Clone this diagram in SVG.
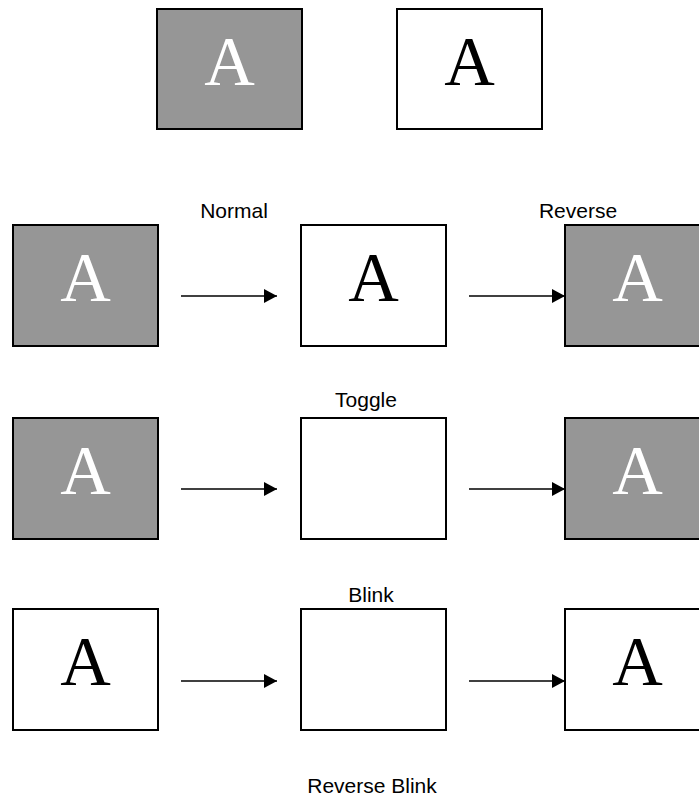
<svg xmlns="http://www.w3.org/2000/svg" width="699" height="800" viewBox="0 0 699 800">
<style>
.box{stroke:#000;stroke-width:2}
.on{fill:#969696}
.off{fill:#fff}
.glyph{font-family:"Liberation Serif","Times New Roman",serif;font-size:70px;text-anchor:middle}
.gw{fill:#fff}
.gb{fill:#000}
.lbl{font-family:"Liberation Sans",Arial,sans-serif;font-size:21px;text-anchor:middle;fill:#000}
.conn line{stroke:#000;stroke-width:1.6}
</style>
<defs>
<marker id="ah" markerWidth="13" markerHeight="14" refX="13" refY="7" orient="auto" markerUnits="userSpaceOnUse">
<path d="M0,0 L13,7 L0,14 Z" fill="#000"/>
</marker>
</defs>
<rect width="699" height="800" fill="#fff"/>

<g id="legend-on"><rect class="box on" x="157" y="9" width="145" height="120"/><text class="glyph gw" x="229.5" y="85">A</text></g>
<g id="legend-off"><rect class="box off" x="397" y="9" width="145" height="120"/><text class="glyph gb" x="469.5" y="85">A</text></g>

<text class="lbl" x="234" y="218">Normal</text>
<text class="lbl" x="578" y="218">Reverse</text>

<g id="r1a"><rect class="box on" x="13" y="225" width="145" height="121"/><text class="glyph gw" x="85.5" y="301">A</text></g>
<g id="r1b"><rect class="box off" x="301" y="225" width="145" height="121"/><text class="glyph gb" x="373.5" y="301">A</text></g>
<g id="r1c"><rect class="box on" x="565" y="225" width="145" height="121"/><text class="glyph gw" x="637.5" y="301">A</text></g>

<text class="lbl" x="366" y="407">Toggle</text>
<g id="r2a"><rect class="box on" x="13" y="418" width="145" height="121"/><text class="glyph gw" x="85.5" y="494">A</text></g>
<g id="r2b"><rect class="box off" x="301" y="418" width="145" height="121"/></g>
<g id="r2c"><rect class="box on" x="565" y="418" width="145" height="121"/><text class="glyph gw" x="637.5" y="494">A</text></g>

<text class="lbl" x="371" y="602">Blink</text>
<g id="r3a"><rect class="box off" x="13" y="609" width="145" height="121"/><text class="glyph gb" x="85.5" y="685">A</text></g>
<g id="r3b"><rect class="box off" x="301" y="609" width="145" height="121"/></g>
<g id="r3c"><rect class="box off" x="565" y="609" width="145" height="121"/><text class="glyph gb" x="637.5" y="685">A</text></g>

<text class="lbl" x="372" y="793">Reverse Blink</text>

<g class="conn">
<line x1="181" y1="296" x2="277" y2="296" marker-end="url(#ah)"/>
<line x1="469" y1="296" x2="565" y2="296" marker-end="url(#ah)"/>
<line x1="181" y1="489" x2="277" y2="489" marker-end="url(#ah)"/>
<line x1="469" y1="489" x2="565" y2="489" marker-end="url(#ah)"/>
<line x1="181" y1="681" x2="277" y2="681" marker-end="url(#ah)"/>
<line x1="469" y1="681" x2="565" y2="681" marker-end="url(#ah)"/>
</g>
</svg>
